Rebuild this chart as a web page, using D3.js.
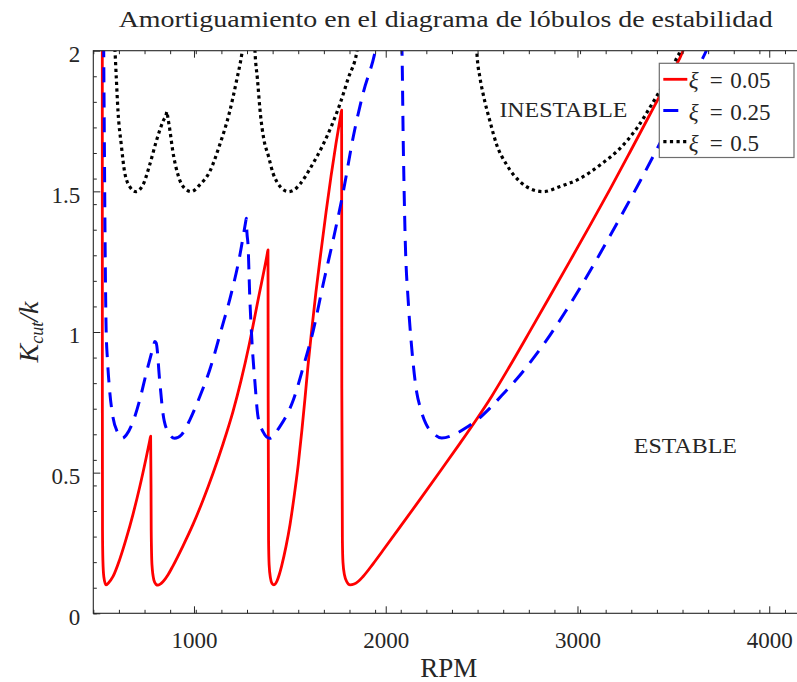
<!DOCTYPE html>
<html>
<head>
<meta charset="utf-8">
<script src="https://cdn.jsdelivr.net/npm/d3@7"></script>
<style>
  body { margin: 0; background: #fff; }
  text { font-family: "Liberation Serif", "Times New Roman", serif; fill: #262626; }
</style>
</head>
<body>
<svg id="chart" width="797" height="682"></svg>
<script>

// stability lobes, one array of [rpm, Kcut/k] per damping ratio
var lobes005 = [
  [522, 2.03], [522.2, 0.76], [523, 0.296], [525, 0.189], [530, 0.129], [541, 0.101], [554, 0.108],
  [578, 0.131], [612, 0.190], [647, 0.266], [682, 0.352], [717, 0.449], [751, 0.554], [771, 0.620], [774, 0.630],
  [776, 0.45], [777, 0.296], [781, 0.172], [791, 0.118], [802, 0.103], [812, 0.100], [838, 0.112],
  [864, 0.136], [890, 0.168], [943, 0.240], [995, 0.316], [1047, 0.402], [1099, 0.497], [1151, 0.601],
  [1203, 0.716], [1245, 0.826], [1287, 0.952], [1336, 1.120], [1382, 1.277], [1386, 1.292],
  [1387, 0.757], [1389, 0.261], [1392, 0.172], [1399, 0.125], [1407, 0.106], [1417, 0.101], [1425, 0.105],
  [1433, 0.115], [1445, 0.138], [1457, 0.168], [1480, 0.238], [1501, 0.316], [1522, 0.414], [1544, 0.530], [1563, 0.652],
  [1579, 0.764], [1595, 0.882], [1614, 1.007], [1636, 1.142], [1662, 1.284], [1689, 1.427], [1715, 1.555],
  [1741, 1.672], [1766, 1.773], [1770, 1.789],
  [1771, 0.80], [1774, 0.261], [1777, 0.182], [1785, 0.136], [1798, 0.111], [1814, 0.101], [1835, 0.104],
  [1856, 0.113], [1882, 0.131], [1934, 0.176], [1986, 0.224], [2075, 0.307], [2179, 0.405], [2283, 0.504],
  [2388, 0.605], [2466, 0.682], [2553, 0.772], [2648, 0.880], [2753, 1.004], [2857, 1.128], [2961, 1.253],
  [3066, 1.380], [3170, 1.508], [3274, 1.640], [3379, 1.775], [3483, 1.910], [3556, 2.010], [3570, 2.04]
];

var lobes025 = [
  [529, 2.03], [533, 1.647], [536, 1.363], [542, 1.007], [549, 0.900], [560, 0.794], [577, 0.699],
  [603, 0.641], [626, 0.622], [647, 0.634], [682, 0.681], [717, 0.758], [751, 0.853], [791, 0.956], [795, 0.966],
  [803, 0.961], [821, 0.829], [838, 0.712], [864, 0.646], [899, 0.622], [934, 0.634], [978, 0.687],
  [1030, 0.770], [1082, 0.865], [1142, 1.007], [1195, 1.138], [1238, 1.268], [1269, 1.389], [1273, 1.404], [1276, 1.356],
  [1282, 1.309], [1291, 1.125], [1304, 0.948], [1317, 0.829], [1334, 0.699], [1360, 0.646], [1395, 0.622],
  [1447, 0.663], [1518, 0.758], [1570, 0.876], [1622, 1.005], [1675, 1.174], [1727, 1.331], [1779, 1.500],
  [1831, 1.695], [1883, 1.851], [1944, 1.994], [1955, 2.03],
  [2083, 2.03], [2092, 1.647], [2101, 1.345], [2118, 1.103], [2136, 0.940], [2162, 0.784], [2179, 0.734],
  [2210, 0.673], [2248, 0.640], [2292, 0.623], [2362, 0.637], [2424, 0.662], [2471, 0.684], [2544, 0.730],
  [2622, 0.787], [2701, 0.847], [2779, 0.915], [2857, 0.989], [2935, 1.070], [3014, 1.157], [3092, 1.248],
  [3170, 1.342], [3248, 1.438], [3327, 1.537], [3405, 1.638], [3483, 1.742], [3561, 1.848], [3619, 1.928],
  [3671, 1.999], [3690, 2.03]
];

var lobes05 = [
  [585, 2.03], [588, 2.0], [595, 1.902], [604, 1.783], [621, 1.665], [638, 1.570], [665, 1.517],
  [697, 1.499], [734, 1.523], [769, 1.594], [803, 1.677], [838, 1.748], [855, 1.773], [859, 1.783], [863, 1.766], [873, 1.724],
  [890, 1.641], [917, 1.558], [951, 1.511], [986, 1.499], [1030, 1.523], [1082, 1.570], [1134, 1.665],
  [1186, 1.783], [1221, 1.890], [1250, 1.991], [1258, 2.03],
  [1316, 2.03], [1318, 2.0], [1331, 1.899], [1347, 1.771], [1365, 1.683], [1388, 1.626], [1412, 1.565],
  [1433, 1.533], [1459, 1.510], [1492, 1.499], [1522, 1.505], [1553, 1.526], [1614, 1.591], [1666, 1.656],
  [1718, 1.734], [1762, 1.812], [1805, 1.903], [1849, 1.994], [1858, 2.03],
  [2474, 2.03], [2475, 1.996], [2492, 1.902], [2509, 1.843], [2544, 1.748], [2579, 1.665], [2631, 1.594],
  [2701, 1.534], [2770, 1.505], [2822, 1.499], [2909, 1.517], [3014, 1.546], [3118, 1.594], [3222, 1.653],
  [3309, 1.724], [3396, 1.819], [3462, 1.896], [3520, 1.978], [3535, 2.0], [3543, 2.03]
];

var xTicks = [1000, 2000, 3000, 4000];
var yTicks = [0, 0.5, 1, 1.5, 2];
var legendLabels = ["0.05", "0.25", "0.5"];

var svg = d3.select("#chart");

var x = d3.scaleLinear().domain([475, 4150]).range([93.3, 798]);
var y = d3.scaleLinear().domain([0, 2]).range([613.3, 50.7]);

var plotL = x.range()[0], plotR = x.range()[1], plotT = y.range()[1], plotB = y.range()[0];

svg.append("defs").append("clipPath").attr("id", "plot-clip")
  .append("rect")
    .attr("x", plotL).attr("y", plotT)
    .attr("width", plotR - plotL).attr("height", plotB - plotT);

// curves
var line = d3.line()
  .curve(d3.curveMonotoneX)
  .x(function(d) { return x(d[0]); })
  .y(function(d) { return y(d[1]); });

var series = [
  { data: lobes005, color: "#ff0000", width: 2.8, dash: null },
  { data: lobes025, color: "#0000ff", width: 3, dash: "15,10" },
  { data: lobes05,  color: "#000000", width: 3.2, dash: "3.2,3.4" }
];

var curves = svg.append("g").attr("clip-path", "url(#plot-clip)");
series.forEach(function(s) {
  curves.append("path")
    .datum(s.data)
    .attr("fill", "none")
    .attr("stroke", s.color)
    .attr("stroke-width", s.width)
    .attr("stroke-linejoin", "round")
    .attr("stroke-dasharray", s.dash)
    .attr("d", line);
});

// axes: major and minor ticks point inwards
var axisColor = "#262626";
var minorX = d3.range(475, 4150, 133.6);
var minorY = d3.range(0, 2, 2 / 22);

function styleAxis(g) {
  g.select(".domain").remove();
  g.selectAll("line").attr("stroke", axisColor).attr("stroke-width", 1);
  g.selectAll("text").attr("fill", axisColor).style("font-size", "23px")
    .style("font-family", "'Liberation Serif', serif");
}

svg.append("g").attr("transform", "translate(0," + plotB + ")")
  .call(d3.axisBottom(x).tickValues(minorX).tickSize(-3.5).tickFormat(""))
  .call(styleAxis);
svg.append("g").attr("transform", "translate(0," + plotT + ")")
  .call(d3.axisTop(x).tickValues(minorX).tickSize(-3.5).tickFormat(""))
  .call(styleAxis);
svg.append("g").attr("transform", "translate(" + plotL + ",0)")
  .call(d3.axisLeft(y).tickValues(minorY).tickSize(-3.5).tickFormat(""))
  .call(styleAxis);

svg.append("g").attr("transform", "translate(0," + plotB + ")")
  .call(d3.axisBottom(x).tickValues(xTicks).tickSize(-7).tickPadding(18.5).tickFormat(d3.format("d")))
  .call(styleAxis);
svg.append("g").attr("transform", "translate(0," + plotT + ")")
  .call(d3.axisTop(x).tickValues(xTicks).tickSize(-7).tickFormat(""))
  .call(styleAxis);
svg.append("g").attr("transform", "translate(" + plotL + ",0)")
  .call(d3.axisLeft(y).tickValues(yTicks).tickSize(-7).tickPadding(13).tickFormat(function(d) { return String(d); }))
  .call(styleAxis)
  .selectAll("text").attr("dy", "0.47em");

svg.append("rect")
  .attr("x", plotL).attr("y", plotT)
  .attr("width", plotR - plotL).attr("height", plotB - plotT)
  .attr("fill", "none")
  .attr("stroke", axisColor)
  .attr("stroke-width", 1.1);

// titles
svg.append("text")
  .attr("x", (plotL + plotR) / 2)
  .attr("y", 27)
  .attr("text-anchor", "middle")
  .attr("textLength", 654)
  .attr("lengthAdjust", "spacingAndGlyphs")
  .style("font-size", "23px")
  .text("Amortiguamiento en el diagrama de lóbulos de estabilidad");

svg.append("text")
  .attr("x", (plotL + plotR) / 2 + 3)
  .attr("y", 677)
  .attr("text-anchor", "middle")
  .style("font-size", "27px")
  .text("RPM");

var ylab = svg.append("text")
  .attr("transform", "translate(38," + ((plotT + plotB) / 2) + ") rotate(-90)")
  .attr("text-anchor", "middle")
  .style("font-size", "28px")
  .style("font-style", "italic");
ylab.append("tspan").text("K");
ylab.append("tspan").attr("dy", 5).style("font-size", "18px").text("cut");
ylab.append("tspan").attr("dy", -5).text("/k");

// region labels
svg.append("text")
  .attr("x", x(2593)).attr("y", y(1.765))
  .attr("textLength", 128).attr("lengthAdjust", "spacingAndGlyphs")
  .style("font-size", "22px")
  .text("INESTABLE");

svg.append("text")
  .attr("x", x(3294)).attr("y", y(0.569))
  .attr("textLength", 103).attr("lengthAdjust", "spacingAndGlyphs")
  .style("font-size", "22px")
  .text("ESTABLE");

// legend
var legend = svg.append("g").attr("transform", "translate(659.3,63.3)");
legend.append("rect")
  .attr("width", 134.7).attr("height", 94.2)
  .attr("fill", "#fff")
  .attr("stroke", "#6e6e6e")
  .attr("stroke-width", 1.2);

series.forEach(function(s, i) {
  var row = legend.append("g").attr("transform", "translate(0," + (16 + i * 31.2) + ")");
  row.append("line")
    .attr("x1", 4).attr("x2", 28)
    .attr("stroke", s.color)
    .attr("stroke-width", s.width)
    .attr("stroke-dasharray", s.dash);
  row.append("text").attr("x", 29.5).attr("y", 9)
    .style("font-size", "23px").style("font-style", "italic").text("ξ");
  row.append("text").attr("x", 50.5).attr("y", 9)
    .style("font-size", "23px").text("=");
  row.append("text").attr("x", 71).attr("y", 9)
    .style("font-size", "23px").text(legendLabels[i]);
});

</script>
</body>
</html>
